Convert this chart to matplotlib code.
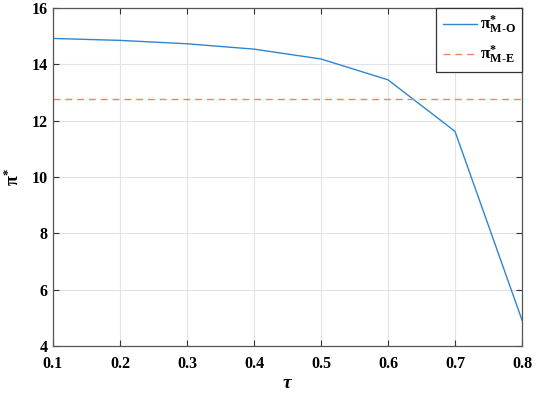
import matplotlib
matplotlib.use("Agg")
import matplotlib.pyplot as plt

tau = [0.1, 0.2, 0.3, 0.4, 0.5, 0.6, 0.7, 0.8]
pi_mo = [14.92, 14.85, 14.73, 14.54, 14.19, 13.45, 11.62, 4.92]
pi_me = 12.77
xticks = [0.1, 0.2, 0.3, 0.4, 0.5, 0.6, 0.7, 0.8]
yticks = [4, 6, 8, 10, 12, 14, 16]

plt.rcParams['font.family'] = ['Liberation Serif', 'DejaVu Serif']
plt.rcParams['font.weight'] = 'bold'
plt.rcParams['mathtext.fontset'] = 'custom'
plt.rcParams['mathtext.rm'] = 'Liberation Serif:bold'
plt.rcParams['mathtext.it'] = 'Liberation Serif:italic'
plt.rcParams['mathtext.bf'] = 'Liberation Serif:bold'

fig = plt.figure(figsize=(5.36, 3.95), dpi=100)
ax = fig.add_axes([53/536, 49/395, 469/536, 338/395])

ax.plot(tau, pi_mo, color='#2F86CF', lw=1.0, label=r'$\mathrm{\pi}^{*}_{\mathrm{M\text{-}O}}$')
ax.plot([tau[0], tau[-1]], [pi_me, pi_me], color='#EA8660', lw=1.0, ls=(0, (5, 3.5)),
        label=r'$\mathrm{\pi}^{*}_{\mathrm{M\text{-}E}}$')

ax.set_xlim(0.1, 0.8)
ax.set_ylim(4, 16)
ax.set_xticks(xticks)
ax.set_xticklabels([f'{t:.1f}' for t in xticks])
ax.set_yticks(yticks)
ax.grid(True, color='#e3e3e3', lw=0.8)
ax.set_axisbelow(True)
ax.tick_params(direction='in', top=True, right=True, length=4, width=0.8,
               color='#333333', labelsize=11.5)
ax.tick_params(axis='x', pad=7.5)
ax.tick_params(axis='y', pad=4)
for lab in ax.get_xticklabels() + ax.get_yticklabels():
    lab.set_fontweight('bold')
    lab.set_family('Liberation Serif')
for s in ax.spines.values():
    s.set_color('#555555')
    s.set_linewidth(0.9)

ax.set_xlabel(r'$\it{\tau}$', fontsize=14, labelpad=2)
ax.set_ylabel(r'$\mathrm{\pi}^{*}$', fontsize=13, labelpad=6)

leg = ax.legend(loc='upper right', fontsize=12.5, frameon=True, fancybox=False,
                edgecolor='#333333', framealpha=1, handlelength=2.0,
                borderaxespad=0.0, borderpad=0.35, labelspacing=0.45, handletextpad=0.15)
leg.get_frame().set_linewidth(0.9)

fig.savefig('out.png', dpi=100)
